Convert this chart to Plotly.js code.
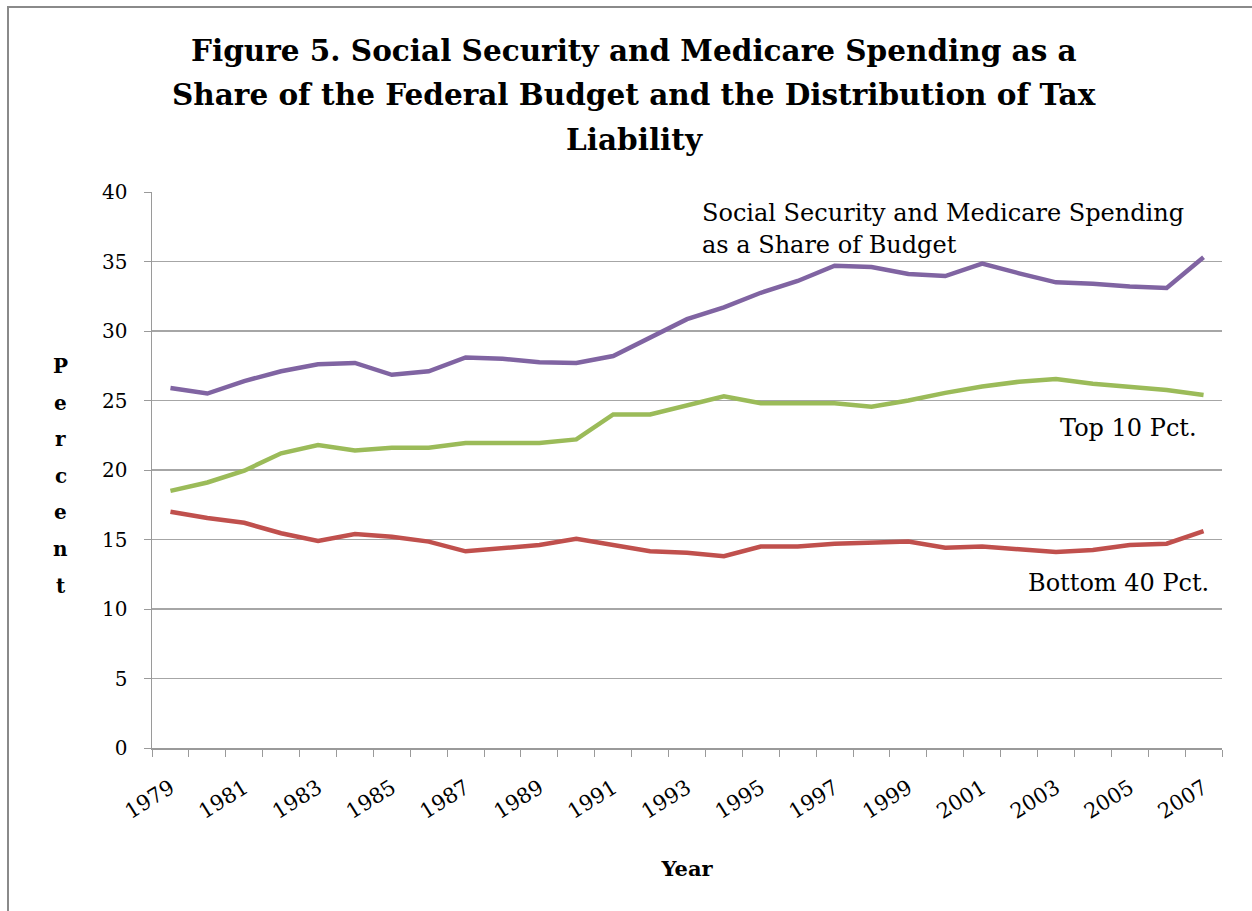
<!DOCTYPE html>
<html>
<head>
<meta charset="utf-8">
<script src="https://cdn.plot.ly/plotly-3.0.1.min.js"></script>
<style>
  html, body { margin: 0; padding: 0; width: 1252px; height: 911px; overflow: hidden; background: #fff; }
  #frame { position: absolute; left: 7px; top: 6px; width: 1300px; height: 1000px; border-left: 2px solid #8a8a8a; border-top: 2px solid #8a8a8a; }
  #chart { position: absolute; left: 0; top: 0; width: 1252px; height: 911px; }
</style>
</head>
<body>
<div id="frame"></div>
<div id="chart"></div>
<script>
const years = [1979,1980,1981,1982,1983,1984,1985,1986,1987,1988,1989,1990,1991,1992,1993,1994,1995,1996,1997,1998,1999,2000,2001,2002,2003,2004,2005,2006,2007];
const ssMedicare = [25.9,25.5,26.4,27.1,27.6,27.7,26.85,27.1,28.1,28.0,27.75,27.7,28.2,29.5,30.85,31.7,32.75,33.6,34.7,34.6,34.1,33.95,34.85,34.15,33.5,33.4,33.2,33.1,35.3];
const top10 = [18.5,19.1,19.95,21.2,21.8,21.4,21.6,21.6,21.95,21.95,21.95,22.2,24.0,24.0,24.65,25.3,24.8,24.8,24.8,24.55,25.0,25.55,26.0,26.35,26.55,26.2,25.95,25.75,25.4];
const bottom40 = [17.0,16.55,16.2,15.45,14.9,15.4,15.2,14.85,14.15,14.4,14.6,15.05,14.6,14.15,14.05,13.8,14.5,14.5,14.7,14.75,14.85,14.4,14.5,14.3,14.1,14.25,14.6,14.7,15.6];
const tickYears = [1979,1981,1983,1985,1987,1989,1991,1993,1995,1997,1999,2001,2003,2005,2007];
const tickLabels = tickYears.map(String);
const yAxisTitle = "Percent";
const xAxisTitle = "Year";
const titleLines = ["Figure 5. Social Security and Medicare Spending as a", "Share of the Federal Budget and the Distribution of Tax", "Liability"];
const ssLabelLines = ["Social Security and Medicare Spending", "as a Share of Budget"];
const top10Label = "Top 10 Pct.";
const bottom40Label = "Bottom 40 Pct.";

const serif = "DejaVu Serif, Liberation Serif, serif";
const traces = [
  {x: years, y: ssMedicare, name: "SS and Medicare", mode: "lines", line: {color: "#8064A2", width: 4.5}},
  {x: years, y: top10, name: top10Label, mode: "lines", line: {color: "#9BBB59", width: 4.5}},
  {x: years, y: bottom40, name: bottom40Label, mode: "lines", line: {color: "#C0504D", width: 4.5}}
];

// plot area: 152..1222 px horizontally, 192..748 px vertically
const plotTop = 192, plotH = 556, plotL = 152, plotW = 1070;
const pyToPaper = py => (plotTop + plotH - py) / plotH;
const pxToPaper = px => (px - plotL) / plotW;

const annotations = [];
const titleYs = [50, 95, 140];
titleLines.forEach((t, i) => annotations.push({
  text: "<b>" + t + "</b>", xref: "paper", yref: "paper", x: pxToPaper(634), y: pyToPaper(titleYs[i]),
  xanchor: "center", yanchor: "middle", showarrow: false, font: {family: serif, size: 29.5, color: "#000"}
}));
yAxisTitle.split("").forEach((ch, i) => annotations.push({
  text: "<b>" + ch + "</b>", xref: "paper", yref: "paper", x: pxToPaper(61), y: pyToPaper(366 + i * 36.6),
  xanchor: "center", yanchor: "middle", showarrow: false, font: {family: serif, size: 20, color: "#000"}
}));
const ssYs = [213, 245];
ssLabelLines.forEach((t, i) => annotations.push({
  text: t, xref: "paper", yref: "paper", x: pxToPaper(700), y: pyToPaper(ssYs[i]),
  xanchor: "left", yanchor: "middle", showarrow: false, font: {family: serif, size: 24, color: "#000"}
}));
annotations.push({text: top10Label, xref: "paper", yref: "paper", x: pxToPaper(1199), y: pyToPaper(428),
  xanchor: "right", yanchor: "middle", showarrow: false, font: {family: serif, size: 24, color: "#000"}});
annotations.push({text: bottom40Label, xref: "paper", yref: "paper", x: pxToPaper(1211), y: pyToPaper(583),
  xanchor: "right", yanchor: "middle", showarrow: false, font: {family: serif, size: 24, color: "#000"}});

const layout = {
  width: 1252, height: 911,
  paper_bgcolor: "rgba(0,0,0,0)", plot_bgcolor: "rgba(0,0,0,0)",
  margin: {l: 152, r: 30, t: 192, b: 163},
  showlegend: false,
  font: {family: serif, color: "#000"},
  xaxis: {
    range: [1978.5, 2007.5], tickvals: tickYears, ticktext: tickLabels, tickangle: -32,
    ticks: "", showgrid: false, zeroline: false,
    showline: true, linecolor: "#9a9a9a", linewidth: 1.5,
    ticklabelstandoff: 18,
    tickfont: {family: serif, size: 21, color: "#000"},
    minor: {tick0: 1978.5, dtick: 1, ticks: "outside", ticklen: 7, tickcolor: "#9a9a9a", tickwidth: 1, showgrid: false},
    title: {text: "<b>" + xAxisTitle + "</b>", font: {family: serif, size: 21, color: "#000"}, standoff: 38}
  },
  yaxis: {
    range: [0, 40], dtick: 5, ticks: "outside", ticklen: 7, tickcolor: "#9a9a9a",
    showgrid: true, gridcolor: "#a6a6a6", gridwidth: 1.3, zeroline: false,
    showline: true, linecolor: "#9a9a9a", linewidth: 1.5,
    ticklabelstandoff: 12,
    tickfont: {family: serif, size: 20, color: "#000"}
  },
  annotations: annotations
};
Plotly.newPlot("chart", traces, layout, {displayModeBar: false, staticPlot: true});
</script>
</body>
</html>
